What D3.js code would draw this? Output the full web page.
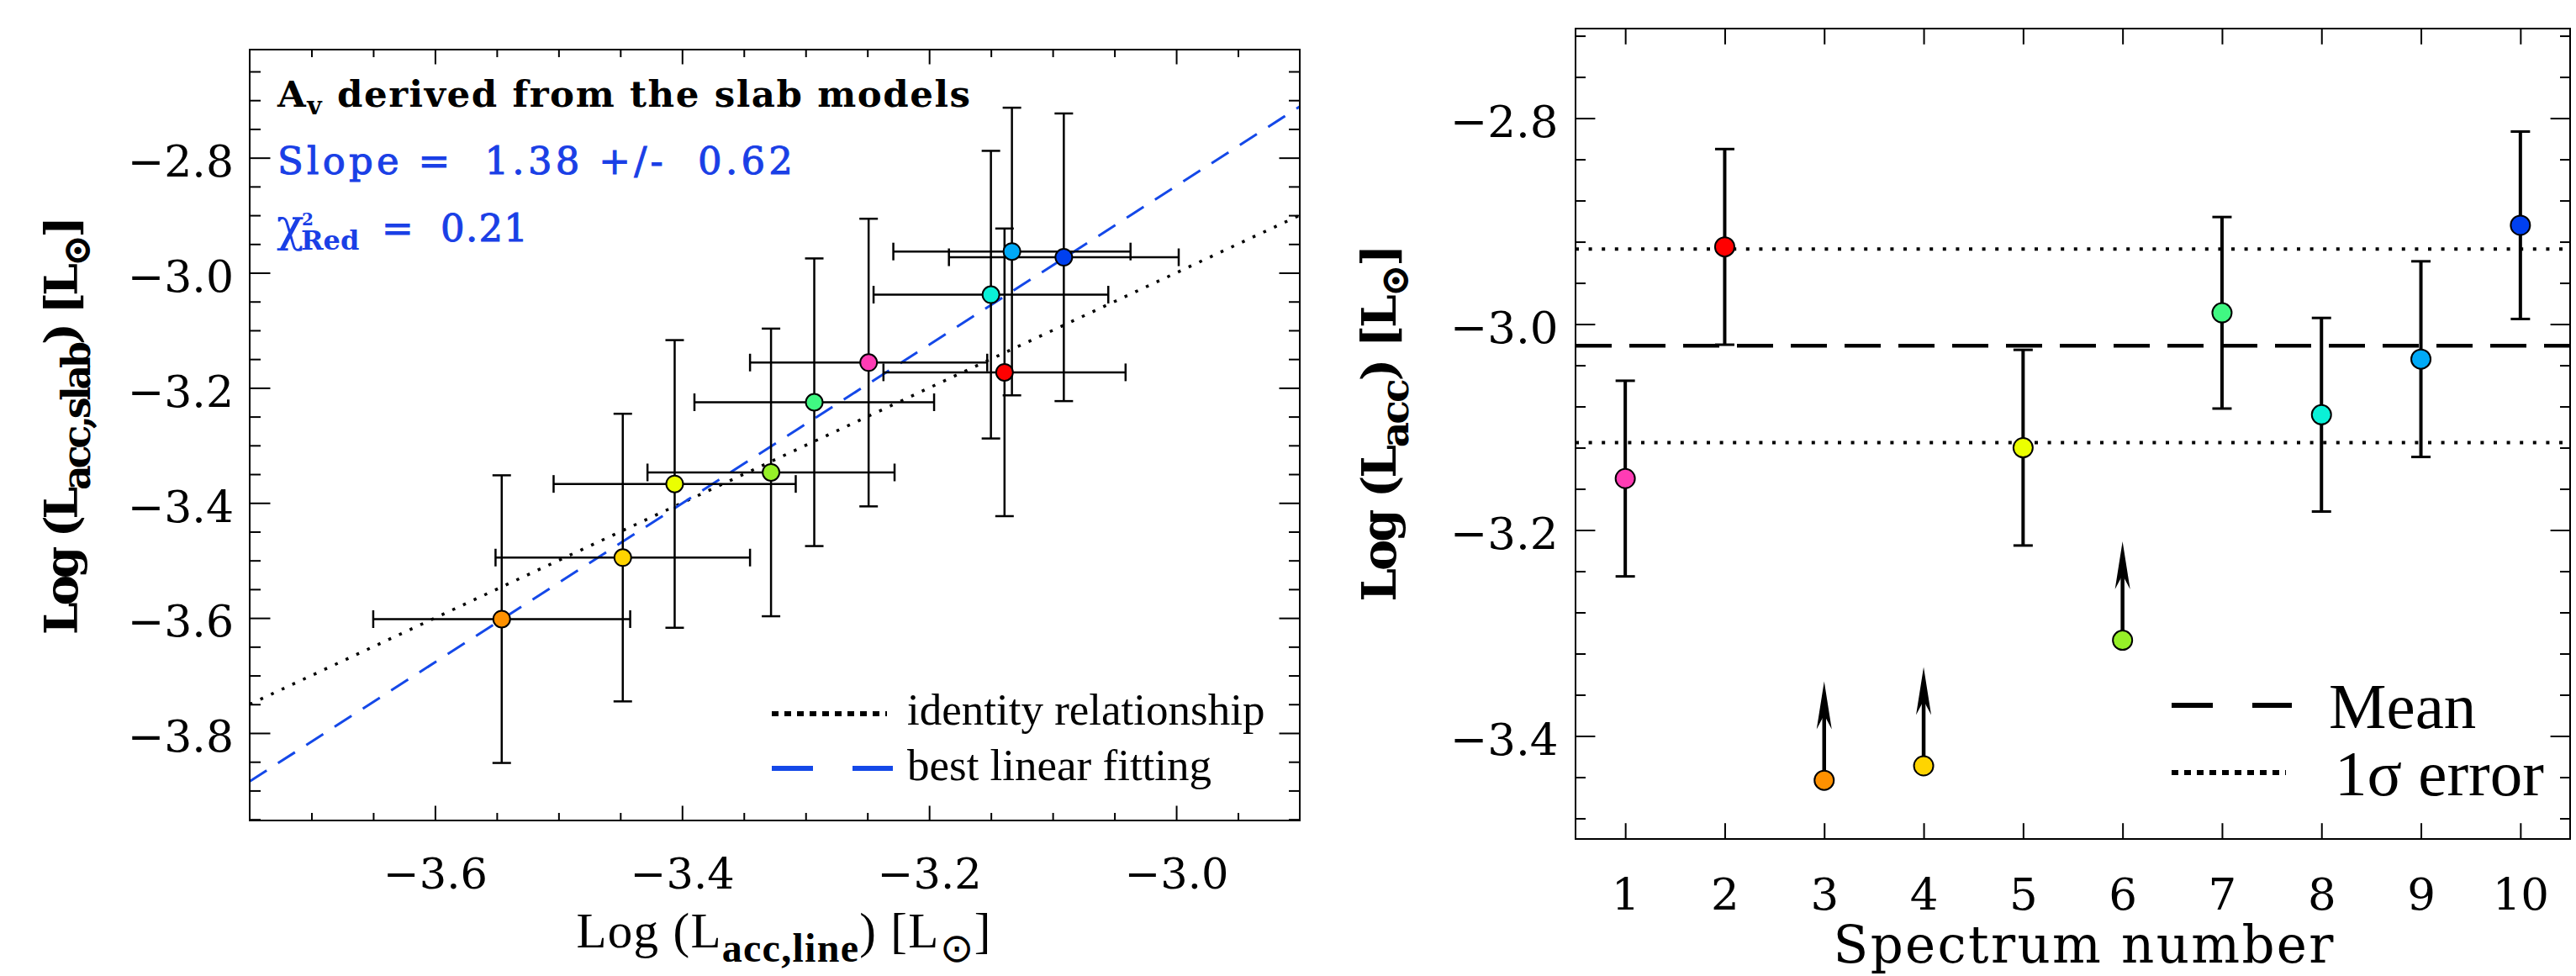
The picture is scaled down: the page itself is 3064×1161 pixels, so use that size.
<!DOCTYPE html>
<html lang="en">
<head>
<meta charset="UTF-8">
<script src="https://cdn.jsdelivr.net/npm/d3@7"></script>
<style>
  body { margin: 0; background: #fff; }
  svg { display: block; background: #fff; }
</style>
</head>
<body>
<svg id="chart" width="3064" height="1161"></svg>
<script>
// ---- data ----
var spectrum = [1, 2, 3, 4, 5, 6, 7, 8, 9, 10];
var pointColors = ["#ff3cb4", "#ff0000", "#ff9100", "#ffd400", "#ebff00",
                   "#96f028", "#40f882", "#0af0d7", "#00aaf8", "#0040f0"];

// left panel: Log L_acc from lines (x) vs from slab models (y)
var logLine    = [-3.249, -3.139, -3.546, -3.448, -3.406, -3.328, -3.293, -3.150, -3.133, -3.091];
var logLineErr = [0.096, 0.098, 0.104, 0.103, 0.098, 0.100, 0.097, 0.095, 0.096, 0.093];
var logSlab    = [-3.156, -3.173, -3.602, -3.495, -3.367, -3.347, -3.225, -3.038, -2.963, -2.973];
var logSlabErr = [0.25, 0.25, 0.25, 0.25, 0.25, 0.25, 0.25, 0.25, 0.25, 0.25];
var fitSlope = 1.38, fitSlopeErr = 0.62, fitIntercept = 1.291, chi2Red = 0.21;

// right panel: Log L_acc per spectrum (null error = lower limit)
var logAcc     = [-3.150, -2.925, -3.443, -3.429, -3.120, -3.307, -2.989, -3.088, -3.034, -2.904];
var logAccErr  = [0.095, 0.095, null, null, 0.095, null, 0.093, 0.094, 0.095, 0.091];
var limitTip   = [null, null, -3.347, -3.333, null, -3.211, null, null, null, null];
var meanAcc = -3.021, sigmaAcc = 0.094;

var leftXTicks  = [-3.6, -3.4, -3.2, -3.0];
var leftYTicks  = [-3.8, -3.6, -3.4, -3.2, -3.0, -2.8];
var rightXTicks = [1, 2, 3, 4, 5, 6, 7, 8, 9, 10];
var rightYTicks = [-3.4, -3.2, -3.0, -2.8];

// ---- setup ----
var svg = d3.select("#chart");
var serif = "DejaVu Serif", times = "Liberation Serif";
var blueText = "#1a3fe6", fitBlue = "#1448e8";
var fmt = d3.format(".1f");

var L = {left: 297, right: 1546, top: 59, bottom: 976};
var R = {left: 1874, right: 3057, top: 34, bottom: 998};

var xL = d3.scaleLinear().domain([-3.75, -2.90]).range([L.left, L.right]);
var yL = d3.scaleLinear().domain([-3.952, -2.612]).range([L.bottom, L.top]);
var xR = d3.scaleLinear().domain([0.5, 10.5]).range([R.left, R.right]);
var yR = d3.scaleLinear().domain([-3.50, -2.713]).range([R.bottom, R.top]);

// minor ticks
var leftXMinor = d3.range(-74, -58).filter(function(k) { return k % 4 !== 0; }).map(function(k) { return k * 0.05; });
var leftYMinor = d3.range(-79, -52).filter(function(k) { return k % 4 !== 0; }).map(function(k) { return k * 0.05; });
var rightYMinor = d3.range(-87, -67).filter(function(k) { return k % 5 !== 0; }).map(function(k) { return k * 0.04; });

function axisGroup(axis, transform, fontSize, dy) {
  var g = svg.append("g").attr("transform", transform).call(axis);
  g.select(".domain").remove();
  g.attr("font-family", serif).attr("font-size", fontSize);
  g.selectAll(".tick line").attr("stroke", "#000").attr("stroke-width", 2);
  g.selectAll(".tick text").attr("fill", "#000");
  if (dy) g.selectAll(".tick text").attr("dy", dy);
  return g;
}

// title text with sub/superscript parts: [string, "n" | "sub" | "sup", weight]
function richText(g, parts, subSize, subShift) {
  var shift = 0;
  parts.forEach(function(p) {
    var t = g.append("tspan").text(p[0]);
    var target = p[1] === "sub" ? subShift : (p[1] === "sup" ? -subShift : 0);
    if (target !== shift) { t.attr("dy", target - shift); shift = target; }
    if (p[1] !== "n") t.attr("font-size", subSize);
    if (p[2]) t.attr("font-weight", p[2]);
  });
}

// ================= LEFT PANEL =================
svg.append("clipPath").attr("id", "clipL").append("rect")
  .attr("x", L.left).attr("y", L.top).attr("width", L.right - L.left).attr("height", L.bottom - L.top);

// identity and fit lines
var lineL = d3.line().x(function(d) { return xL(d[0]); }).y(function(d) { return yL(d[1]); });
svg.append("path")
  .attr("d", lineL(xL.domain().map(function(v) { return [v, v]; })))
  .attr("clip-path", "url(#clipL)")
  .attr("fill", "none").attr("stroke", "#000").attr("stroke-width", 3.5).attr("stroke-dasharray", "3.5 10.5");
svg.append("path")
  .attr("d", lineL(xL.domain().map(function(v) { return [v, fitSlope * v + fitIntercept]; })))
  .attr("clip-path", "url(#clipL)")
  .attr("fill", "none").attr("stroke", fitBlue).attr("stroke-width", 3).attr("stroke-dasharray", "24 16");

// error bars
var errL = svg.append("g").attr("stroke", "#000").attr("stroke-width", 2.5);
spectrum.forEach(function(s, i) {
  var cx = xL(logLine[i]), cy = yL(logSlab[i]);
  var y0 = yL(logSlab[i] - logSlabErr[i]), y1 = yL(logSlab[i] + logSlabErr[i]);
  var x0 = xL(logLine[i] - logLineErr[i]), x1 = xL(logLine[i] + logLineErr[i]);
  errL.append("line").attr("x1", cx).attr("x2", cx).attr("y1", y0).attr("y2", y1);
  errL.append("line").attr("x1", cx - 11).attr("x2", cx + 11).attr("y1", y0).attr("y2", y0);
  errL.append("line").attr("x1", cx - 11).attr("x2", cx + 11).attr("y1", y1).attr("y2", y1);
  errL.append("line").attr("x1", x0).attr("x2", x1).attr("y1", cy).attr("y2", cy);
  errL.append("line").attr("x1", x0).attr("x2", x0).attr("y1", cy - 10.5).attr("y2", cy + 10.5);
  errL.append("line").attr("x1", x1).attr("x2", x1).attr("y1", cy - 10.5).attr("y2", cy + 10.5);
});
svg.append("g").selectAll("circle").data(spectrum).join("circle")
  .attr("cx", function(d, i) { return xL(logLine[i]); })
  .attr("cy", function(d, i) { return yL(logSlab[i]); })
  .attr("r", 10)
  .attr("fill", function(d, i) { return pointColors[i]; })
  .attr("stroke", "#000").attr("stroke-width", 2);

// axes (ticks point inward, mirrored on all sides)
axisGroup(d3.axisBottom(xL).tickValues(leftXTicks).tickSize(-17.5).tickSizeOuter(0).tickPadding(45).tickFormat(fmt),
  "translate(0," + L.bottom + ")", 51);
axisGroup(d3.axisBottom(xL).tickValues(leftXMinor).tickSize(-9).tickSizeOuter(0).tickFormat(""), "translate(0," + L.bottom + ")", 10);
axisGroup(d3.axisTop(xL).tickValues(leftXTicks).tickSize(-17.5).tickSizeOuter(0).tickFormat(""), "translate(0," + L.top + ")", 10);
axisGroup(d3.axisTop(xL).tickValues(leftXMinor).tickSize(-9).tickSizeOuter(0).tickFormat(""), "translate(0," + L.top + ")", 10);
axisGroup(d3.axisLeft(yL).tickValues(leftYTicks).tickSize(-24.5).tickSizeOuter(0).tickPadding(19).tickFormat(fmt),
  "translate(" + L.left + ",0)", 52, "0.42em");
axisGroup(d3.axisLeft(yL).tickValues(leftYMinor).tickSize(-13).tickSizeOuter(0).tickFormat(""), "translate(" + L.left + ",0)", 10);
axisGroup(d3.axisRight(yL).tickValues(leftYTicks).tickSize(-24.5).tickSizeOuter(0).tickFormat(""), "translate(" + L.right + ",0)", 10);
axisGroup(d3.axisRight(yL).tickValues(leftYMinor).tickSize(-13).tickSizeOuter(0).tickFormat(""), "translate(" + L.right + ",0)", 10);

svg.append("rect").attr("x", L.left).attr("y", L.top)
  .attr("width", L.right - L.left).attr("height", L.bottom - L.top)
  .attr("fill", "none").attr("stroke", "#000").attr("stroke-width", 2);

// annotation block
var t1 = svg.append("text").attr("x", L.left + 33).attr("y", L.top + 68)
  .attr("font-family", serif).attr("font-weight", "bold").attr("font-size", 43.5)
  .attr("textLength", 824).attr("lengthAdjust", "spacing").style("white-space", "pre");
richText(t1, [["A", "n"], ["v", "sub"], [" derived from the slab models", "n"]], 30, 9);

svg.append("text").attr("x", L.left + 33).attr("y", L.top + 148)
  .attr("font-family", serif).attr("font-size", 45).attr("fill", blueText)
  .attr("stroke", blueText).attr("stroke-width", 1)
  .attr("textLength", 613).attr("lengthAdjust", "spacing").style("white-space", "pre")
  .text("Slope =  " + fitSlope.toFixed(2) + " +/-  " + fitSlopeErr.toFixed(2));

svg.append("text").attr("x", L.left + 32).attr("y", L.top + 228)
  .attr("font-family", serif).attr("font-size", 54).attr("fill", blueText).text("χ");
svg.append("text").attr("x", L.left + 62).attr("y", L.top + 209)
  .attr("font-family", serif).attr("font-weight", "bold").attr("font-size", 20).attr("fill", blueText).text("2");
svg.append("text").attr("x", L.left + 61).attr("y", L.top + 238)
  .attr("font-family", serif).attr("font-weight", "bold").attr("font-size", 32).attr("fill", blueText).text("Red");
svg.append("text").attr("x", L.left + 157).attr("y", L.top + 228)
  .attr("font-family", serif).attr("font-size", 45).attr("fill", blueText)
  .attr("stroke", blueText).attr("stroke-width", 1)
  .attr("textLength", 174).attr("lengthAdjust", "spacing").style("white-space", "pre")
  .text("=  " + chi2Red.toFixed(2));

// legend
var legL = svg.append("g");
legL.append("line").attr("x1", 918).attr("x2", 1055).attr("y1", 849).attr("y2", 849)
  .attr("stroke", "#000").attr("stroke-width", 6).attr("stroke-dasharray", "8 7");
legL.append("text").attr("x", 1079).attr("y", 862).attr("font-family", times).attr("font-size", 53).text("identity relationship");
legL.append("line").attr("x1", 918).attr("x2", 1062).attr("y1", 914).attr("y2", 914)
  .attr("stroke", fitBlue).attr("stroke-width", 6).attr("stroke-dasharray", "49 47");
legL.append("text").attr("x", 1079).attr("y", 928).attr("font-family", times).attr("font-size", 53).text("best linear fitting");

// titles
var tyL = svg.append("text").attr("transform", "translate(92,506) rotate(-90)")
  .attr("text-anchor", "middle").attr("font-family", serif).attr("font-weight", "bold").attr("font-size", 55)
  .attr("textLength", 498).attr("lengthAdjust", "spacing").style("white-space", "pre");
richText(tyL, [["Log (L", "n"], ["acc,slab", "sub"], [") [L", "n"], ["⊙", "sub"], ["]", "n"]], 46, 15);

var txL = svg.append("text").attr("x", 932).attr("y", 1127)
  .attr("text-anchor", "middle").attr("font-family", times).attr("font-size", 59)
  .attr("textLength", 493).attr("lengthAdjust", "spacing").style("white-space", "pre");
richText(txL, [["Log (L", "n"], ["acc,line", "sub", "bold"], [") [L", "n"], ["⊙", "sub"], ["]", "n"]], 48, 17);

// ================= RIGHT PANEL =================
var hline = function(v) { return [[0.5, v], [10.5, v]]; };
var lineR = d3.line().x(function(d) { return xR(d[0]); }).y(function(d) { return yR(d[1]); });
svg.append("path").attr("d", lineR(hline(meanAcc)))
  .attr("fill", "none").attr("stroke", "#000").attr("stroke-width", 4.5).attr("stroke-dasharray", "43 21");
[meanAcc + sigmaAcc, meanAcc - sigmaAcc].forEach(function(v) {
  svg.append("path").attr("d", lineR(hline(v)))
    .attr("fill", "none").attr("stroke", "#000").attr("stroke-width", 4).attr("stroke-dasharray", "4 11.6");
});

var errR = svg.append("g").attr("stroke", "#000");
spectrum.forEach(function(s, i) {
  var cx = xR(s), cy = yR(logAcc[i]);
  if (logAccErr[i] !== null) {
    var y0 = yR(logAcc[i] - logAccErr[i]), y1 = yR(logAcc[i] + logAccErr[i]);
    errR.append("line").attr("x1", cx).attr("x2", cx).attr("y1", y0).attr("y2", y1).attr("stroke-width", 4);
    errR.append("line").attr("x1", cx - 11.5).attr("x2", cx + 11.5).attr("y1", y0).attr("y2", y0).attr("stroke-width", 3);
    errR.append("line").attr("x1", cx - 11.5).attr("x2", cx + 11.5).attr("y1", y1).attr("y2", y1).attr("stroke-width", 3);
  } else {
    var ty = yR(limitTip[i]);
    errR.append("line").attr("x1", cx).attr("x2", cx).attr("y1", cy).attr("y2", ty + 38).attr("stroke-width", 4.5);
    errR.append("path")
      .attr("d", "M" + cx + "," + ty + "L" + (cx + 9) + "," + (ty + 57) + "L" + cx + "," + (ty + 40) + "L" + (cx - 9) + "," + (ty + 57) + "Z")
      .attr("fill", "#000").attr("stroke", "none");
  }
});
svg.append("g").selectAll("circle").data(spectrum).join("circle")
  .attr("cx", function(d) { return xR(d); })
  .attr("cy", function(d, i) { return yR(logAcc[i]); })
  .attr("r", 11.5)
  .attr("fill", function(d, i) { return pointColors[i]; })
  .attr("stroke", "#000").attr("stroke-width", 2);

axisGroup(d3.axisBottom(xR).tickValues(rightXTicks).tickSize(-18.8).tickSizeOuter(0).tickPadding(46.5).tickFormat(d3.format("d")),
  "translate(0," + R.bottom + ")", 53);
axisGroup(d3.axisTop(xR).tickValues(rightXTicks).tickSize(-18.8).tickSizeOuter(0).tickFormat(""), "translate(0," + R.top + ")", 10);
axisGroup(d3.axisLeft(yR).tickValues(rightYTicks).tickSize(-23.4).tickSizeOuter(0).tickPadding(20.5).tickFormat(fmt),
  "translate(" + R.left + ",0)", 53, "0.415em");
axisGroup(d3.axisLeft(yR).tickValues(rightYMinor).tickSize(-12).tickSizeOuter(0).tickFormat(""), "translate(" + R.left + ",0)", 10);
axisGroup(d3.axisRight(yR).tickValues(rightYTicks).tickSize(-23.4).tickSizeOuter(0).tickFormat(""), "translate(" + R.right + ",0)", 10);
axisGroup(d3.axisRight(yR).tickValues(rightYMinor).tickSize(-12).tickSizeOuter(0).tickFormat(""), "translate(" + R.right + ",0)", 10);

svg.append("rect").attr("x", R.left).attr("y", R.top)
  .attr("width", R.right - R.left).attr("height", R.bottom - R.top)
  .attr("fill", "none").attr("stroke", "#000").attr("stroke-width", 2);

// legend
var legR = svg.append("g");
legR.append("line").attr("x1", 2583).attr("x2", 2726).attr("y1", 839).attr("y2", 839)
  .attr("stroke", "#000").attr("stroke-width", 6).attr("stroke-dasharray", "49 47");
legR.append("text").attr("x", 2770).attr("y", 866).attr("font-family", times).attr("font-size", 77).text("Mean");
legR.append("line").attr("x1", 2583).attr("x2", 2719).attr("y1", 919).attr("y2", 919)
  .attr("stroke", "#000").attr("stroke-width", 6).attr("stroke-dasharray", "8 7");
legR.append("text").attr("x", 2777).attr("y", 946).attr("font-family", times).attr("font-size", 77).text("1σ error");

// titles
var tyR = svg.append("text").attr("transform", "translate(1660,503) rotate(-90)")
  .attr("text-anchor", "middle").attr("font-family", serif).attr("font-weight", "bold").attr("font-size", 56)
  .attr("textLength", 425).attr("lengthAdjust", "spacing").style("white-space", "pre");
richText(tyR, [["Log (L", "n"], ["acc", "sub"], [") [L", "n"], ["⊙", "sub"], ["]", "n"]], 47, 15);

svg.append("text").attr("x", 2478).attr("y", 1145)
  .attr("text-anchor", "middle").attr("font-family", serif).attr("font-size", 61)
  .attr("textLength", 595).attr("lengthAdjust", "spacing")
  .text("Spectrum number");
</script>
</body>
</html>
